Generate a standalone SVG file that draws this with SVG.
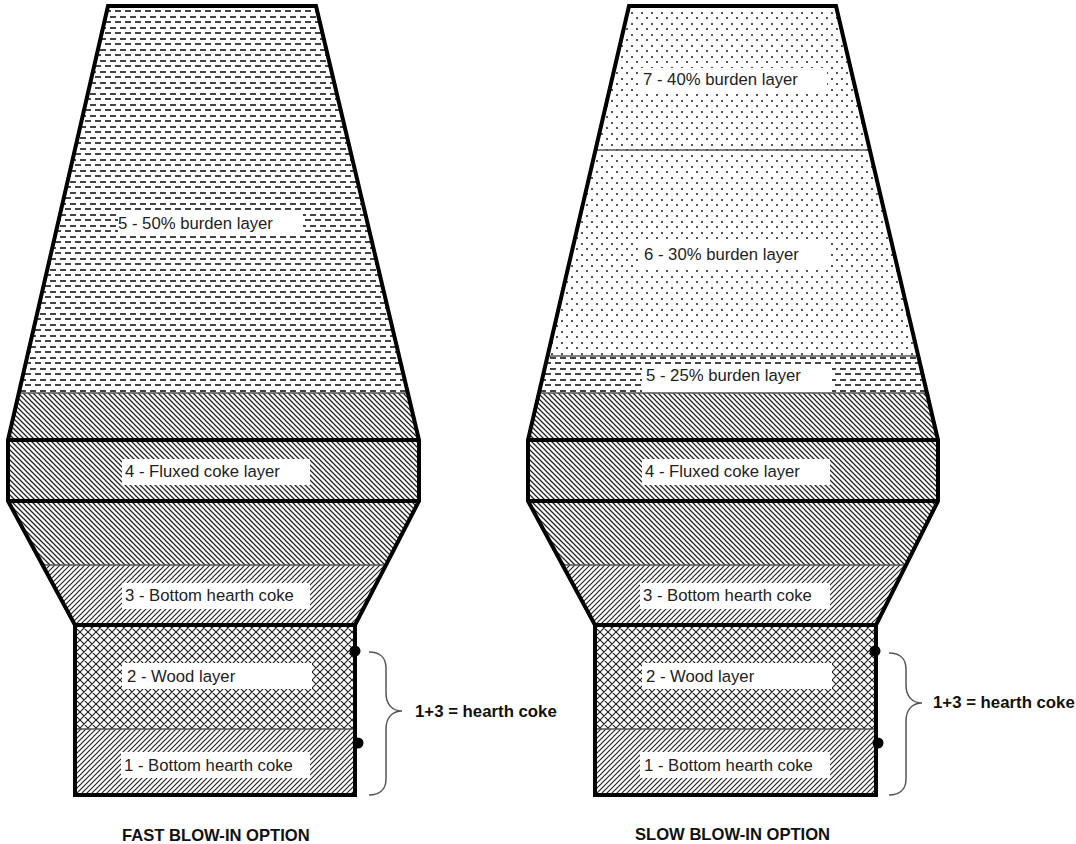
<svg xmlns="http://www.w3.org/2000/svg" width="1076" height="844" viewBox="0 0 1076 844">
<style>
.o{fill:none;stroke:#000;stroke-width:4;stroke-linejoin:miter}
.b{stroke:#555;stroke-width:1.6;fill:none}
.t{font-family:"Liberation Sans",Arial,sans-serif;font-size:16.7px;fill:#222}
.h{font-family:"Liberation Sans",Arial,sans-serif;font-size:16.8px;font-weight:bold;fill:#111}
.c{font-size:16.6px}
.w{fill:#fff}
.br{fill:none;stroke:#555;stroke-width:1.5}
</style>
<defs>
<pattern id="dash" patternUnits="userSpaceOnUse" x="0" y="4" width="10" height="11">
<rect x="0" y="1" width="6" height="2" fill="#444"/>
<rect x="5" y="6" width="5" height="2" fill="#444"/>
<rect x="0" y="6" width="1" height="2" fill="#444"/>
</pattern>
<pattern id="dot" patternUnits="userSpaceOnUse" x="0" y="0" width="10" height="11">
<rect x="1" y="1" width="2" height="2" fill="#555"/>
<rect x="6" y="6" width="2" height="2" fill="#555"/>
</pattern>
<pattern id="back" patternUnits="userSpaceOnUse" width="5" height="5">
<path d="M-1,-1L6,6M-1,4L1,6M4,-1L6,1" stroke="#222" stroke-width="1.25" fill="none"/>
</pattern>
<pattern id="fwd" patternUnits="userSpaceOnUse" width="5" height="5">
<path d="M-1,6L6,-1M-1,1L1,-1M4,6L6,4" stroke="#222" stroke-width="1.15" fill="none"/>
</pattern>
<pattern id="cross" patternUnits="userSpaceOnUse" width="8" height="8">
<path d="M-1,-1L9,9M-1,9L9,-1M-1,7L1,9M7,-1L9,1M7,9L9,7M-1,1L1,-1" stroke="#222" stroke-width="1.2" fill="none"/>
</pattern>
</defs>

<g id="fast-furnace">
<path id="f-burden" fill="url(#dash)" d="M108,6H316L408,393H17Z"/>
<path id="f-back-upper" fill="url(#back)" d="M17,393H408L419,440V501L384,565H42L8,501V440Z"/>
<path id="f-fwd" fill="url(#fwd)" d="M42,565H384L355,625H75Z"/>
<rect id="f-wood" x="75" y="625" width="280" height="104" fill="url(#cross)"/>
<rect id="f-bottom" x="75" y="729" width="280" height="66" fill="url(#fwd)"/>
<path class="b" d="M17,393H408M42,565H384M75,729H355"/>
<path class="o" d="M108,6H316L419,440V501L355,625V795H75V625L8,501V440Z"/>
<path class="o" d="M8,440H419M8,501H419M75,625H355"/>
</g>
<g id="fast-labels">
<g id="f5"><rect class="w" x="118" y="212" width="185" height="24"/><text class="t" x="118" y="229">5 - 50% burden layer</text></g>
<g id="f4"><rect class="w" x="122" y="459" width="188" height="26"/><text class="t" x="125" y="477">4 - Fluxed coke layer</text></g>
<g id="f3"><rect class="w" x="122" y="583" width="188" height="26"/><text class="t" x="125" y="601">3 - Bottom hearth coke</text></g>
<g id="f2"><rect class="w" x="122" y="663" width="190" height="26"/><text class="t" x="127" y="682">2 - Wood layer</text></g>
<g id="f1"><rect class="w" x="121" y="752" width="189" height="26"/><text class="t" x="124" y="771">1 - Bottom hearth coke</text></g>
</g>
<g id="fast-brace">
<circle cx="355" cy="651" r="5.5"/><circle cx="358" cy="743" r="5.5"/>
<path class="br" d="M369,652C380,652 386,658 386,668V693C386,704 392,711 402,711C392,711 386,718 386,729V779C386,789 380,795 369,795"/>
<text class="h" x="415" y="717">1+3 = hearth coke</text>
</g>
<text id="fast-caption" class="h c" x="122" y="841">FAST BLOW-IN OPTION</text>

<g id="slow-furnace">
<path id="s-dot7" fill="url(#dot)" d="M629,6H836L871,150H595Z"/>
<path id="s-dot6" fill="url(#dot)" d="M595,150H871L920,356H546Z"/>
<path id="s-dash" fill="url(#dash)" d="M546,356H920L929,393H537Z"/>
<path id="s-back-upper" fill="url(#back)" d="M537,393H929L938,440V501L904,565H562L528,501V440Z"/>
<path id="s-fwd" fill="url(#fwd)" d="M562,565H904L876,625H595Z"/>
<rect id="s-wood" x="595" y="625" width="281" height="104" fill="url(#cross)"/>
<rect id="s-bottom" x="595" y="729" width="281" height="66" fill="url(#fwd)"/>
<path class="b" d="M595,150H871M546,356H920M537,393H929M562,565H904M595,729H876"/>
<path class="o" d="M629,6H836L938,440V501L876,625V795H595V625L528,501V440Z"/>
<path class="o" d="M528,440H938M528,501H938M595,625H876"/>
</g>
<g id="slow-labels">
<g id="s7"><rect class="w" x="639" y="68" width="188" height="26"/><text class="t" x="643" y="85">7 - 40% burden layer</text></g>
<g id="s6"><rect class="w" x="640" y="241" width="190" height="27"/><text class="t" x="644" y="260">6 - 30% burden layer</text></g>
<g id="s5"><rect class="w" x="642" y="364" width="190" height="28"/><text class="t" x="646" y="381">5 - 25% burden layer</text></g>
<g id="s4"><rect class="w" x="642" y="459" width="188" height="26"/><text class="t" x="645" y="477">4 - Fluxed coke layer</text></g>
<g id="s3"><rect class="w" x="640" y="583" width="190" height="26"/><text class="t" x="643" y="601">3 - Bottom hearth coke</text></g>
<g id="s2"><rect class="w" x="642" y="663" width="190" height="26"/><text class="t" x="646" y="682">2 - Wood layer</text></g>
<g id="s1"><rect class="w" x="640" y="752" width="190" height="26"/><text class="t" x="644" y="771">1 - Bottom hearth coke</text></g>
</g>
<g id="slow-brace">
<circle cx="875" cy="651" r="5.5"/><circle cx="878" cy="743" r="5.5"/>
<path class="br" d="M889,653C900,653 906,659 906,669V685C906,696 912,703 922,703C912,703 906,710 906,721V779C906,789 900,795 889,795"/>
<text class="h" x="933" y="708">1+3 = hearth coke</text>
</g>
<text id="slow-caption" class="h c" x="635" y="840">SLOW BLOW-IN OPTION</text>
</svg>
